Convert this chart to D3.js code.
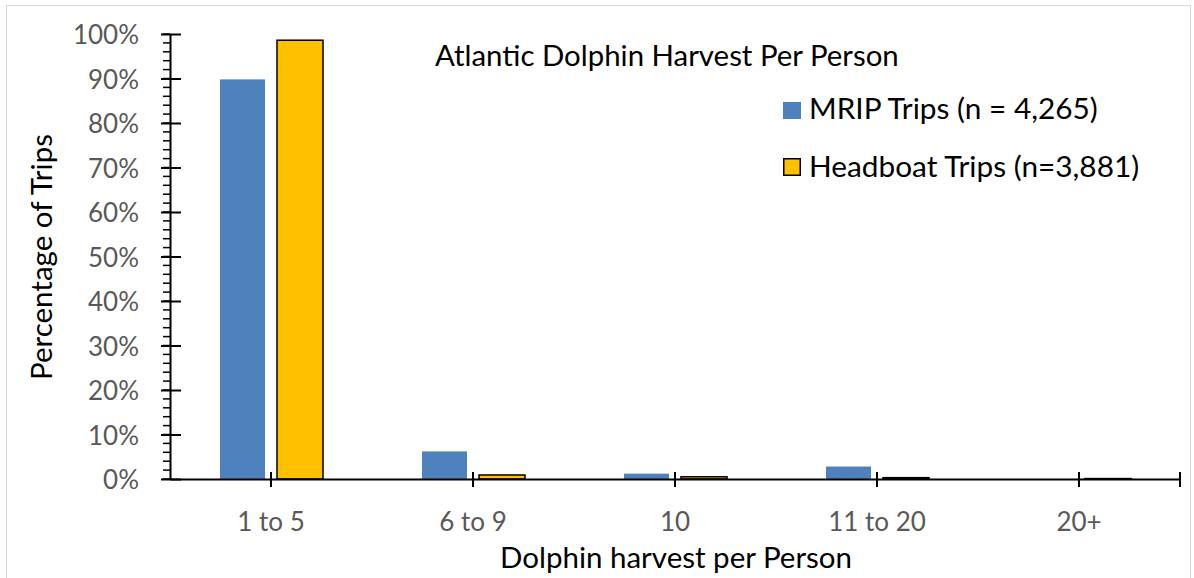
<!DOCTYPE html>
<html>
<head>
<meta charset="utf-8">
<script src="https://d3js.org/d3.v7.min.js"></script>
<style>
  body { margin: 0; background: #fff; }
  svg text { font-family: Lato, 'Open Sans', sans-serif; }
</style>
</head>
<body>
<script>
// data
var categories = ["1 to 5", "6 to 9", "10", "11 to 20", "20+"];
var mripValues = [89.8, 6.2, 1.2, 2.8, 0];
var headboatValues = [98.6, 0.9, 0.5, 0.3, 0.1];
var seriesNames = ["MRIP Trips (n = 4,265)", "Headboat Trips (n=3,881)"];
var yTicks = [0, 10, 20, 30, 40, 50, 60, 70, 80, 90, 100];

var W = 1194, H = 578;
var plotLeft = 170, plotRight = 1180, plotTop = 34, plotBottom = 479;

var svg = d3.select("body").append("svg")
  .attr("width", W).attr("height", H);

svg.append("rect")
  .attr("x", 6.5).attr("y", 5.5)
  .attr("width", W - 10).attr("height", H)
  .attr("fill", "#fff").attr("stroke", "#d9d9d9");

var x = d3.scaleBand().domain(categories).range([plotLeft, plotRight]);
var y = d3.scaleLinear().domain([0, 100]).range([plotBottom, plotTop]);

// bars
var g = svg.append("g");
g.selectAll(".mrip")
  .data(mripValues)
  .enter().append("rect")
  .attr("x", function(d, i) { return x(categories[i]) + x.bandwidth() / 2 - 51; })
  .attr("width", 45)
  .attr("y", function(d) { return y(d); })
  .attr("height", function(d) { return y(0) - y(d); })
  .attr("fill", "#4f81bd");

g.selectAll(".head")
  .data(headboatValues)
  .enter().append("rect")
  .attr("x", function(d, i) { return x(categories[i]) + x.bandwidth() / 2 + 6; })
  .attr("width", 46)
  .attr("y", function(d) { return y(d); })
  .attr("height", function(d) { return y(0) - y(d); })
  .attr("fill", "#ffc000")
  .attr("stroke", "#000")
  .attr("stroke-width", 1.5);

// y axis with minor ticks
var minor = d3.range(0, 101, 2);
svg.append("g").selectAll("line")
  .data(minor)
  .enter().append("line")
  .attr("x1", plotLeft - 7).attr("x2", plotLeft)
  .attr("y1", function(d) { return y(d); })
  .attr("y2", function(d) { return y(d); })
  .attr("stroke", "#000").attr("stroke-width", 1.5);

var yAxis = svg.append("g")
  .attr("transform", "translate(" + plotLeft + ",0)")
  .call(d3.axisLeft(y).tickValues(yTicks).tickSize(0).tickPadding(31)
    .tickFormat(function(d) { return d + "%"; }));
yAxis.select(".domain").attr("stroke", "#000").attr("stroke-width", 2);
yAxis.selectAll(".tick line").remove();
yAxis.selectAll(".tick").append("line")
  .attr("x1", -9).attr("x2", 11)
  .attr("stroke", "#000").attr("stroke-width", 2);
yAxis.selectAll("text")
  .attr("fill", "#595959").style("font-size", "26px")
  .attr("dy", "0.37em");

// x axis, ticks at category centres
var xAxis = svg.append("g")
  .attr("transform", "translate(0," + plotBottom + ")")
  .call(d3.axisBottom(x).tickSize(0));
xAxis.select(".domain").attr("stroke", "#000").attr("stroke-width", 2);
xAxis.selectAll(".tick").append("line")
  .attr("y1", -7).attr("y2", 8)
  .attr("stroke", "#000").attr("stroke-width", 2);
xAxis.append("line")
  .attr("x1", plotRight).attr("x2", plotRight)
  .attr("y1", -7).attr("y2", 8)
  .attr("stroke", "#000").attr("stroke-width", 2);
xAxis.selectAll(".tick text")
  .attr("y", 52).attr("dy", 0)
  .attr("fill", "#595959").style("font-size", "26px");

// axis titles
svg.append("text")
  .attr("x", 676).attr("y", 568)
  .attr("text-anchor", "middle")
  .style("font-size", "29.5px").attr("fill", "#000")
  .text("Dolphin harvest per Person");

svg.append("text")
  .attr("transform", "translate(52,257) rotate(-90)")
  .attr("text-anchor", "middle")
  .style("font-size", "29.5px").attr("fill", "#000")
  .text("Percentage of Trips");

// title
svg.append("text")
  .attr("x", 435).attr("y", 66)
  .style("font-size", "29.4px").attr("fill", "#000")
  .text("Atlantic Dolphin Harvest Per Person");

// legend
var legend = svg.append("g");
legend.append("rect")
  .attr("x", 783).attr("y", 102).attr("width", 18).attr("height", 17)
  .attr("fill", "#4f81bd");
legend.append("rect")
  .attr("x", 783.75).attr("y", 158.75).attr("width", 16.5).attr("height", 16.5)
  .attr("fill", "#ffc000").attr("stroke", "#000").attr("stroke-width", 1.5);
legend.selectAll(".lt")
  .data(seriesNames)
  .enter().append("text")
  .attr("x", 809)
  .attr("y", function(d, i) { return 119 + i * 58; })
  .style("font-size", "29.8px").attr("fill", "#000")
  .text(function(d) { return d; });
</script>
</body>
</html>
